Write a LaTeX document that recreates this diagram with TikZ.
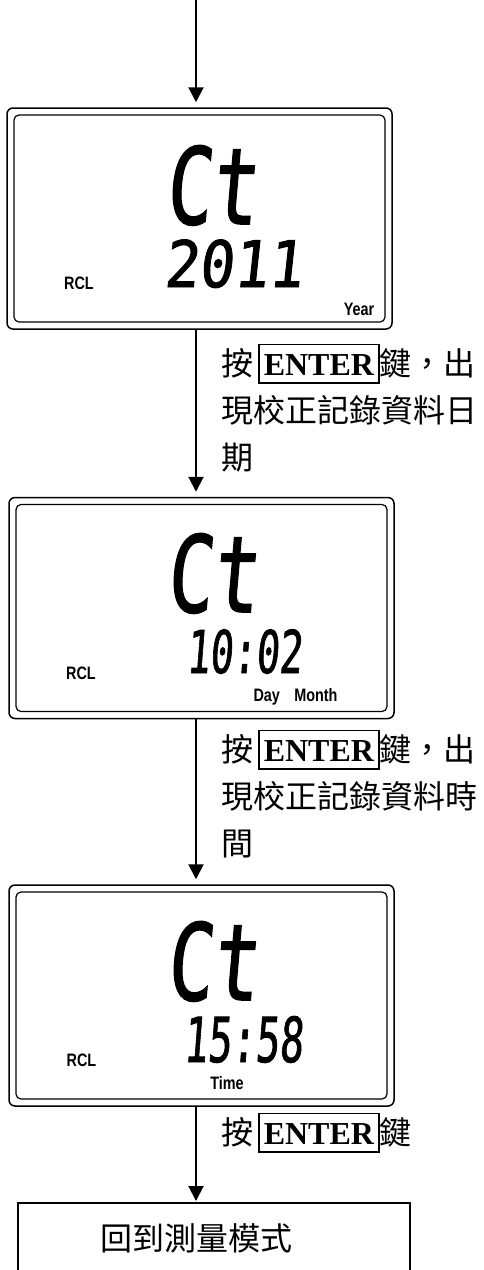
\documentclass[tikz,border=0pt]{standalone}
\usepackage{fontspec}
\setmainfont{Liberation Serif}
\newfontfamily\cjk{Noto Sans CJK TC}
\newfontfamily\lcdfont{DejaVu Sans Mono}[FakeSlant=0.12,FakeBold=1.5]
\newfontfamily\tagfont{Liberation Sans}
\usetikzlibrary{positioning,arrows.meta}
\newcommand{\enterkey}{{\setlength{\fboxsep}{4pt}\setlength{\fboxrule}{1.6pt}\fbox{\rule[-3pt]{0pt}{29pt}\rmfamily\bfseries ENTER}}}
\tikzset{
    lcdframe/.style = {
        draw,
        shape=rectangle,
        rounded corners=6pt,
        minimum width=385pt,
        minimum height=221pt,
        line width=1.5pt
    },
    lcdscreen/.style = {
        draw,
        shape=rectangle,
        rounded corners=5pt,
        minimum width=371pt,
        minimum height=207pt,
        line width=1.2pt
    },
    seg/.style = {
        inner sep=0pt,
        anchor=base,
        font=\lcdfont\fontsize{#1}{#1}\selectfont
    },
    lcdtag/.style = {
        inner sep=0pt,
        anchor=base,
        font=\tagfont\bfseries\fontsize{18}{18}\selectfont
    },
    hint/.style = {
        inner sep=0pt,
        anchor=north west,
        align=left,
        text width=262pt,
        font=\cjk\fontsize{32}{47}\selectfont
    },
    endbox/.style = {
        draw,
        shape=rectangle,
        minimum height=70pt,
        text width=228pt,
        inner xsep=82pt,
        align=left,
        line width=2pt,
        font=\cjk\fontsize{32}{40}\selectfont
    },
    flow/.style = {
        draw,
        line width=2pt,
        -{Triangle[width=15pt,length=15pt]}
    },
}

\begin{document}
\begin{tikzpicture}[x=1pt,y=-1pt]
    \useasboundingbox (0,0) rectangle (483,1270);

    \coordinate (start) at (196,0);

    \node[lcdframe] (lcdA) at (199.5,218.5) {};
    \node[lcdscreen] (lcdAin) at (lcdA.center) {};
    \node[seg=106] (ctA) at (211,224) {\scalebox{0.72}[1]{Ct}};
    \node[seg=64] (year) at (233,287) {\scalebox{0.9}[1]{2011}};
    \node[lcdtag] (rclA) at (79,289) {\scalebox{0.8}[1]{RCL}};
    \node[lcdtag] (yeartag) at (359,315) {\scalebox{0.8}[1]{Year}};

    \node[lcdframe] (lcdB) at (201.5,608) {};
    \node[lcdscreen] (lcdBin) at (lcdB.center) {};
    \node[seg=106] (ctB) at (212,612) {\scalebox{0.72}[1]{Ct}};
    \node[seg=59] (date) at (244,673) {\scalebox{0.65}[1]{10:02}};
    \node[lcdtag] (rclB) at (81,679) {\scalebox{0.8}[1]{RCL}};
    \node[lcdtag] (datetag) at (295.5,701) {\scalebox{0.8}[1]{Day\quad Month}};

    \node[lcdframe] (lcdC) at (201.5,995.5) {};
    \node[lcdscreen] (lcdCin) at (lcdC.center) {};
    \node[seg=106] (ctC) at (212,1000) {\scalebox{0.72}[1]{Ct}};
    \node[seg=62] (clock) at (243,1062) {\scalebox{0.64}[1]{15:58}};
    \node[lcdtag] (rclC) at (81.5,1066) {\scalebox{0.8}[1]{RCL}};
    \node[lcdtag] (timetag) at (227,1089) {\scalebox{0.8}[1]{Time}};

    \node[hint] (hintA) at (221,343.5) {按\hspace{5pt}\enterkey{}鍵，出\\現校正記錄資料日\\期};
    \node[hint] (hintB) at (221,729.5) {按\hspace{5pt}\enterkey{}鍵，出\\現校正記錄資料時\\間};
    \node[hint] (hintC) at (221,1112.5) {按\hspace{5pt}\enterkey{}鍵};

    \node[endbox] (mode) at (214,1238) {回到測量模式};

    \path[flow, shorten >=5pt] (start) -- (lcdA.north -| start);
    \path[flow, shorten >=5pt] (lcdA.south -| start) -- (lcdB.north -| start);
    \path[flow, shorten >=5pt] (lcdB.south -| start) -- (lcdC.north -| start);
    \path[flow, shorten >=1pt] (lcdC.south -| start) -- (mode.north -| start);
\end{tikzpicture}
\end{document}
